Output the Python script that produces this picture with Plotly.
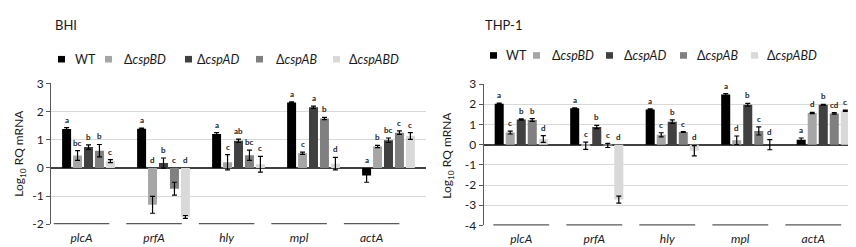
import plotly.graph_objects as go

W, H = 856, 247

genes = ["plcA", "prfA", "hly", "mpl", "actA"]
strains = ["WT", "ΔcspBD", "ΔcspAD", "ΔcspAB", "ΔcspABD"]
colors = ["#000000", "#a6a6a6", "#404040", "#808080", "#d9d9d9"]

# BHI panel
bhi_wt = [1.38, 1.39, 1.20, 2.32, -0.27]
bhi_wt_err = [0.05, 0.02, 0.05, 0.02, 0.24]
bhi_bd = [0.44, -1.31, 0.20, 0.52, 0.76]
bhi_bd_err = [0.17, 0.30, 0.27, 0.04, 0.04]
bhi_ad = [0.74, 0.17, 0.96, 2.15, 0.98]
bhi_ad_err = [0.08, 0.18, 0.06, 0.04, 0.08]
bhi_ab = [0.61, -0.74, 0.45, 1.75, 1.25]
bhi_ab_err = [0.22, 0.23, 0.18, 0.04, 0.06]
bhi_abd = [0.24, -1.74, 0.13, 0.15, 1.13]
bhi_abd_err = [0.05, 0.05, 0.28, 0.22, 0.12]
bhi_letters = [
    ["a", "a", "a", "a", "a"],
    ["bc", "d", "c", "c", "b"],
    ["b", "b", "ab", "a", "bc"],
    ["b", "c", "bc", "b", "c"],
    ["c", "d", "c", "d", "c"],
]
bhi_yticks = [-2, -1, 0, 1, 2, 3]

# THP-1 panel
thp_wt = [2.03, 1.80, 1.74, 2.48, 0.25]
thp_wt_err = [0.03, 0.03, 0.03, 0.05, 0.08]
thp_bd = [0.60, -0.05, 0.49, 0.22, 1.57]
thp_bd_err = [0.07, 0.18, 0.10, 0.21, 0.03]
thp_ad = [1.25, 0.88, 1.14, 1.98, 1.98]
thp_ad_err = [0.03, 0.08, 0.09, 0.07, 0.02]
thp_ab = [1.22, -0.04, 0.63, 0.68, 1.55]
thp_ab_err = [0.07, 0.10, 0.02, 0.20, 0.04]
thp_abd = [0.28, -2.72, -0.30, 0.0, 1.68]
thp_abd_err = [0.17, 0.17, 0.25, 0.25, 0.03]
thp_letters = [
    ["a", "a", "a", "a", "a"],
    ["c", "c", "c", "d", "d"],
    ["b", "b", "b", "b", "b"],
    ["b", "c", "c", "c", "cd"],
    ["d", "d", "d", "d", "c"],
]
thp_yticks = [-4, -3, -2, -1, 0, 1, 2, 3]

FONT = "Lato"
TXT = "#1a1a1a"
BARGAP = 0.27
GROUPGAP = 0.18


def px(x):
    return x / W


def py(y):
    return 1 - y / H


fig = go.Figure()

panels = [
    dict(name="BHI", xa="x", ya="y", vals=[bhi_wt, bhi_bd, bhi_ad, bhi_ab, bhi_abd],
         errs=[bhi_wt_err, bhi_bd_err, bhi_ad_err, bhi_ab_err, bhi_abd_err],
         letters=bhi_letters, yticks=bhi_yticks,
         xdom=[px(43), px(418)], ydom=[py(221.7), py(71.7)], lab_shift=-0.093,
         title_x=45, ytitle_x=12, leg_y=46,
         leg_sq=[50, 97, 177, 248, 325], leg_tx=[65, 114, 187, 266, 339]),
    dict(name="THP-1", xa="x2", ya="y2", vals=[thp_wt, thp_bd, thp_ad, thp_ab, thp_abd],
         errs=[thp_wt_err, thp_bd_err, thp_ad_err, thp_ab_err, thp_abd_err],
         letters=thp_letters, yticks=thp_yticks,
         xdom=[px(475.5), px(853)], ydom=[py(223), py(72.5)], lab_shift=0.0,
         title_x=475, ytitle_x=440, leg_y=42,
         leg_sq=[482, 525, 598, 672, 743], leg_tx=[496, 542, 614, 687, 757]),
]

annotations = []
shapes = []
xs = list(range(len(genes)))
slot = (1 - BARGAP) / len(strains)

for p in panels:
    for k, s in enumerate(strains):
        fig.add_trace(go.Bar(
            x=xs, y=p["vals"][k], name=s, xaxis=p["xa"], yaxis=p["ya"],
            marker=dict(color=colors[k], line=dict(width=0)),
            error_y=dict(type="data", array=p["errs"][k], visible=True,
                         color="#000000", thickness=1.2, width=2.5),
            offsetgroup=str(k), showlegend=False,
        ))
        # significance letters
        for i in xs:
            v = p["vals"][k][i]
            e = p["errs"][k][i]
            top = max(v + e, 0)
            xc = i - (1 - BARGAP) / 2 + (k + 0.5) * slot
            annotations.append(dict(
                x=xc, y=top, xref=p["xa"], yref=p["ya"], text="<b>%s</b>" % p["letters"][k][i],
                showarrow=False, yanchor="bottom", yshift=1,
                font=dict(family=FONT, size=8, color=TXT)))
    ymin = min(p["yticks"])
    # dark category segments along bottom
    for i in xs:
        c = i * 0.967 + p["lab_shift"]
        shapes.append(dict(type="line", xref=p["xa"], yref=p["ya"],
                           x0=c - 0.37, x1=c + 0.37, y0=ymin, y1=ymin,
                           line=dict(color="#595959", width=2.5)))
    # panel title
    annotations.append(dict(x=px(p["title_x"]), y=py(10), xref="paper", yref="paper",
                            text=p["name"], showarrow=False, xanchor="left", yanchor="middle",
                            font=dict(family=FONT, size=13, color=TXT)))
    # y-axis title
    mid = (p["ydom"][0] + p["ydom"][1]) / 2
    annotations.append(dict(x=px(p["ytitle_x"]), y=mid, xref="paper", yref="paper",
                            text="Log<sub>10</sub> RQ mRNA", textangle=-90, showarrow=False,
                            xanchor="center", yanchor="middle",
                            font=dict(family=FONT, size=12, color=TXT)))
    # legend
    for k, s in enumerate(strains):
        x0 = p["leg_sq"][k]
        yc = p["leg_y"]
        shapes.append(dict(type="rect", xref="paper", yref="paper",
                           x0=px(x0), x1=px(x0 + 7), y0=py(yc + 3.5), y1=py(yc - 3.5),
                           fillcolor=colors[k], line=dict(width=0)))
        label = s if not s.startswith("Δ") else "Δ<i>%s</i>" % s[1:]
        annotations.append(dict(x=px(p["leg_tx"][k]), y=py(yc), xref="paper", yref="paper",
                                text=label, showarrow=False, xanchor="left", yanchor="middle",
                                font=dict(family=FONT, size=12.5, color=TXT)))

axis_common_y = dict(showgrid=True, gridcolor="#d9d9d9", gridwidth=1,
                     zeroline=True, zerolinecolor="#404040", zerolinewidth=1.5,
                     showline=True, linecolor="#595959", linewidth=1,
                     ticks="outside", ticklen=4, tickcolor="#595959",
                     tickfont=dict(family=FONT, size=12, color=TXT))
axis_common_x = dict(showgrid=False, zeroline=False, showline=False, ticks="",
                     range=[-0.5, len(genes) - 0.5],
                     ticklabelstandoff=5,
                     tickfont=dict(family=FONT, size=12, color=TXT))

p0, p1 = panels
fig.update_layout(
    width=W, height=H, margin=dict(l=0, r=0, t=0, b=0),
    paper_bgcolor="white", plot_bgcolor="white",
    barmode="group", bargap=BARGAP, bargroupgap=GROUPGAP,
    showlegend=False,
    xaxis=dict(domain=p0["xdom"], anchor="y",
               tickvals=[i * 0.967 + p0["lab_shift"] for i in xs],
               ticktext=["<i>%s</i>" % g for g in genes], **axis_common_x),
    yaxis=dict(domain=p0["ydom"], anchor="x", range=[min(bhi_yticks), max(bhi_yticks)],
               tickvals=bhi_yticks, ticktext=[str(t) for t in bhi_yticks], **axis_common_y),
    xaxis2=dict(domain=p1["xdom"], anchor="y2",
                tickvals=[i * 0.967 + p1["lab_shift"] for i in xs],
                ticktext=["<i>%s</i>" % g for g in genes], **axis_common_x),
    yaxis2=dict(domain=p1["ydom"], anchor="x2", range=[min(thp_yticks), max(thp_yticks)],
                tickvals=thp_yticks, ticktext=[str(t) for t in thp_yticks], **axis_common_y),
    annotations=annotations, shapes=shapes,
)

fig.write_html("out.html")
